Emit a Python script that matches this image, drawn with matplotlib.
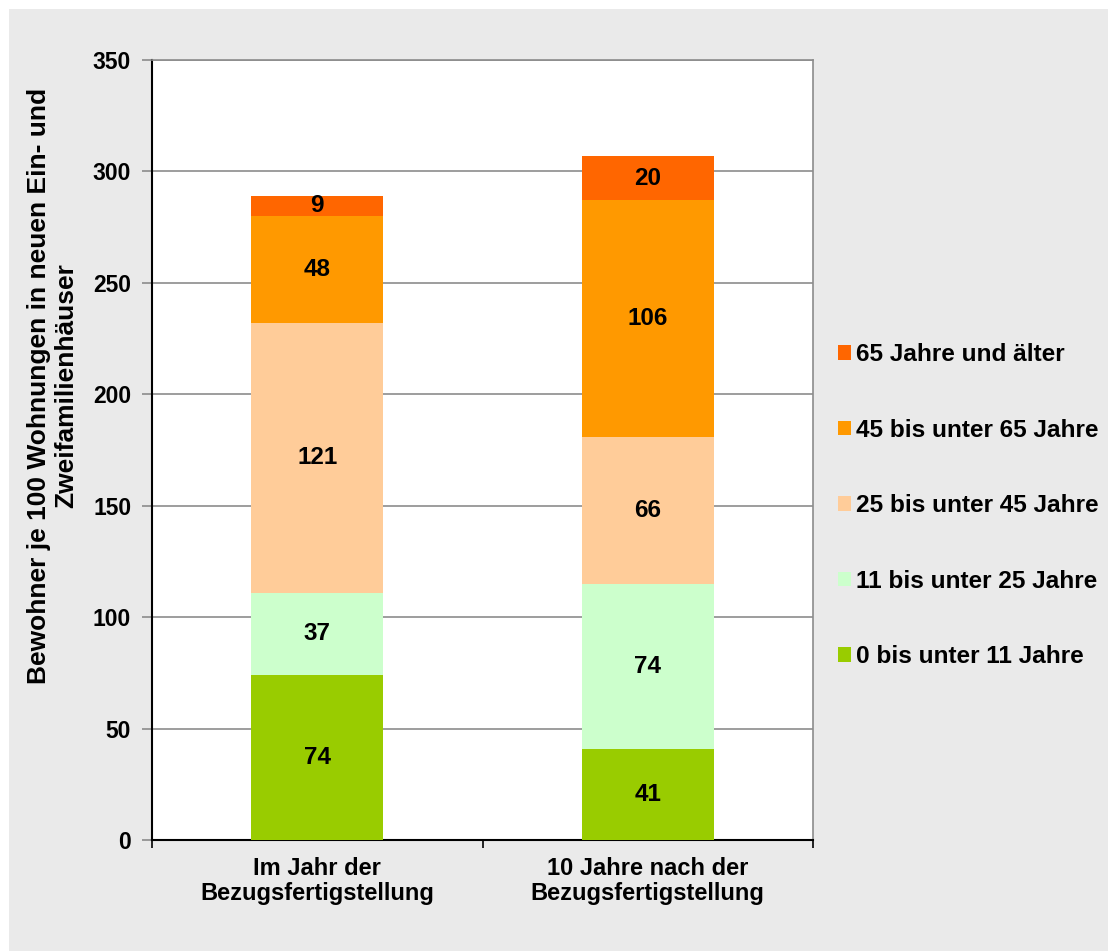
import matplotlib
matplotlib.use('Agg')
import matplotlib.pyplot as plt
from matplotlib.patches import Rectangle, Patch

categories = ['Im Jahr der\nBezugsfertigstellung', '10 Jahre nach der\nBezugsfertigstellung']
series_names = ['0 bis unter 11 Jahre', '11 bis unter 25 Jahre', '25 bis unter 45 Jahre',
                '45 bis unter 65 Jahre', '65 Jahre und älter']
age_0_11 = [74, 41]
age_11_25 = [37, 74]
age_25_45 = [121, 66]
age_45_65 = [48, 106]
age_65_plus = [9, 20]
colors = ['#99CC00', '#CCFFCC', '#FFCC99', '#FF9900', '#FF6600']

series = [age_0_11, age_11_25, age_25_45, age_45_65, age_65_plus]

plt.rcParams['font.family'] = ['Liberation Sans', 'DejaVu Sans']

W, H = 1108, 951
fig = plt.figure(figsize=(W / 100, H / 100), dpi=100, facecolor='white')
fig.patches.append(Rectangle((9 / W, 0), 1, 1 - 9 / H, transform=fig.transFigure,
                             facecolor='#EAEAEA', edgecolor='none', zorder=-10))

ax = fig.add_axes([152 / W, (H - 840) / H, (813 - 152) / W, (840 - 60) / H])
ax.set_facecolor('white')

x = list(range(len(categories)))
bottom = [0] * len(categories)
for vals, name, col in zip(series, series_names, colors):
    ax.bar(x, vals, width=0.4, bottom=bottom, color=col, label=name, zorder=3)
    for xi, v, b in zip(x, vals, bottom):
        ax.text(xi, b + v / 2, str(v), ha='center', va='center', fontsize=17.5,
                fontweight='bold', zorder=4)
    bottom = [b + v for b, v in zip(bottom, vals)]

ax.set_xlim(-0.5, 1.5)
ax.set_ylim(0, 350)
ax.set_yticks(range(0, 351, 50))
ax.yaxis.grid(True, color='#8C8C8C', lw=1.2, zorder=0)
ax.set_xticks(x)
ax.set_xticklabels(categories, fontsize=17, fontweight='bold', linespacing=1.15)
ax.set_xticks([-0.5, 0.5, 1.5], minor=True)
ax.tick_params(axis='x', which='major', length=0, pad=12)
ax.tick_params(axis='x', which='minor', length=6, width=1.2, color='black', direction='out')
ax.tick_params(axis='y', length=7, width=1.2, color='#8C8C8C', pad=8, labelsize=16.5)
for lab in ax.get_yticklabels():
    lab.set_fontweight('bold')

ax.spines['left'].set_color('black')
ax.spines['bottom'].set_color('black')
ax.spines['left'].set_linewidth(1.5)
ax.spines['bottom'].set_linewidth(1.5)
ax.spines['right'].set_color('#8C8C8C')
ax.spines['top'].set_color('#8C8C8C')
ax.spines['right'].set_linewidth(1.2)
ax.spines['top'].set_linewidth(1.2)

# label block sits above the axis centre, as in the source chart
ax.set_ylabel('Bewohner je 100 Wohnungen in neuen Ein- und\nZweifamilienhäuser',
              fontsize=19, fontweight='bold', linespacing=1.18)
ax.yaxis.set_label_coords(-0.112, (840 - 386) / 780)

handles = [Patch(facecolor=c, edgecolor='none') for c in colors][::-1]
fig.legend(handles, series_names[::-1], loc='upper left', bbox_to_anchor=(838 / W, 1 - 343 / H),
           frameon=False, prop={'size': 17.6, 'weight': 'bold'}, handlelength=0.55,
           handleheight=0.55, handletextpad=0.2, labelspacing=2.15, borderpad=0, borderaxespad=0)

fig.savefig('out.png', dpi=100, facecolor=fig.get_facecolor())
